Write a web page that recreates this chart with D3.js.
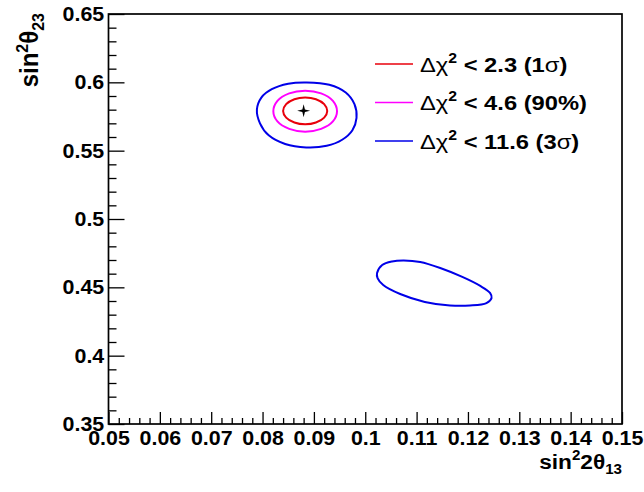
<!DOCTYPE html>
<html><head><meta charset="utf-8">
<script src="https://cdn.jsdelivr.net/npm/d3@7"></script>
<style>
body{margin:0;background:#fff}
text{font-family:"Liberation Sans",Arial,Helvetica,sans-serif;font-weight:bold;fill:#000}
</style>
</head><body><svg id="c" width="644" height="492"></svg>
<script>
// ---- data ----
const xTicks = [0.05,0.06,0.07,0.08,0.09,0.10,0.11,0.12,0.13,0.14,0.15];
const xTickLabels = ["0.05","0.06","0.07","0.08","0.09","0.1","0.11","0.12","0.13","0.14","0.15"];
const yTicks = [0.35,0.40,0.45,0.50,0.55,0.60,0.65];
const yTickLabels = ["0.35","0.4","0.45","0.5","0.55","0.6","0.65"];
const bestFit = [0.0880, 0.5792];
const contour1sigma = [[0.0926,0.5791],[0.0920,0.5840],[0.0904,0.5876],[0.0883,0.5889],[0.0862,0.5876],[0.0846,0.5840],[0.0840,0.5791],[0.0846,0.5742],[0.0862,0.5706],[0.0883,0.5693],[0.0904,0.5706],[0.0920,0.5742]];
const contour90 = [[0.0945,0.5789],[0.0937,0.5864],[0.0914,0.5919],[0.0883,0.5939],[0.0852,0.5919],[0.0829,0.5864],[0.0821,0.5789],[0.0829,0.5714],[0.0852,0.5659],[0.0883,0.5639],[0.0914,0.5659],[0.0937,0.5714]];
const contour3sigmaA = [[0.0886,0.5999],[0.0850,0.5990],[0.0818,0.5950],[0.0798,0.5890],[0.0789,0.5800],[0.0795,0.5700],[0.0812,0.5612],[0.0844,0.5549],[0.0885,0.5524],[0.0925,0.5536],[0.0955,0.5580],[0.0975,0.5650],[0.0983,0.5740],[0.0979,0.5840],[0.0962,0.5925],[0.0930,0.5982]];
const contour3sigmaB = [[0.1023,0.4605],[0.1033,0.4663],[0.1052,0.4689],[0.1075,0.4696],[0.1107,0.4685],[0.1146,0.4641],[0.1189,0.4576],[0.1224,0.4510],[0.1243,0.4459],[0.1246,0.4422],[0.1236,0.4385],[0.1204,0.4367],[0.1165,0.4367],[0.1116,0.4393],[0.1068,0.4451],[0.1035,0.4517],[0.1024,0.4568]];
const legendValues = ["2.3","4.6","11.6"];
const legendCL = ["1σ","90%","3σ"];
const legendColors = ["#e8000b","#ff00ff","#0000e8"];

// ---- layout ----
const svg = d3.select("#c");
const L = 108.5, R = 622, T = 14, B = 424;
const SX = 1.07;
const x = d3.scaleLinear().domain([0.05,0.15]).range([L,R]);
const y = d3.scaleLinear().domain([0.35,0.65]).range([B,T]);

svg.append("rect").attr("width",644).attr("height",492).attr("fill","#fff");
svg.append("clipPath").attr("id","clip").append("rect")
  .attr("x",L).attr("y",T).attr("width",R-L).attr("height",B-T);

// minor ticks
const xMinor = d3.range(0,51).map(i => 0.05 + i*0.002).filter((v,i)=> i%5!==0);
const yMinor = d3.range(0,31).map(i => 0.35 + i*0.01).filter((v,i)=> i%5!==0);

const gx = svg.append("g").attr("transform",`translate(0,${B})`);
gx.call(d3.axisBottom(x).tickValues(xMinor).tickSize(-6).tickFormat(""));
gx.call(g=>g.select(".domain").remove());
const gx2 = svg.append("g").attr("transform",`translate(0,${B})`);
gx2.call(d3.axisBottom(x).tickValues(xTicks).tickSize(-12).tickPadding(6.5)
  .tickFormat((d,i)=>xTickLabels[i]));
gx2.select(".domain").remove();
gx2.selectAll("text").attr("font-size",20).attr("font-family",null)
  .attr("transform",`scale(${SX},1)`);

const gy = svg.append("g").attr("transform",`translate(${L},0)`);
gy.call(d3.axisLeft(y).tickValues(yMinor).tickSize(-8).tickFormat(""));
gy.select(".domain").remove();
const gy2 = svg.append("g").attr("transform",`translate(${L},0)`);
gy2.call(d3.axisLeft(y).tickValues(yTicks).tickSize(-16).tickPadding(4)
  .tickFormat((d,i)=>yTickLabels[i]));
gy2.select(".domain").remove();
gy2.selectAll("text").attr("font-size",20).attr("font-family",null)
  .attr("transform",`scale(${SX},1)`);

svg.selectAll(".tick line").attr("stroke","#000").attr("stroke-width",1.3);

// frame
svg.append("rect").attr("x",L).attr("y",T).attr("width",R-L).attr("height",B-T)
  .attr("fill","none").attr("stroke","#000").attr("stroke-width",1.7);

// contours
const line = d3.line().x(d=>x(d[0])).y(d=>y(d[1])).curve(d3.curveCatmullRomClosed.alpha(0.5));
const plot = svg.append("g").attr("clip-path","url(#clip)");
[[contour3sigmaA,legendColors[2]],[contour3sigmaB,legendColors[2]],[contour90,legendColors[1]],[contour1sigma,legendColors[0]]]
  .forEach(([pts,col])=>{
    plot.append("path").attr("d",line(pts)).attr("fill","none")
      .attr("stroke",col).attr("stroke-width",2);
  });

// best-fit star
const star4 = {draw(ctx,size){const r=Math.sqrt(size);const i=r*0.2;
  ctx.moveTo(0,-r);ctx.lineTo(i,-i);ctx.lineTo(r,0);ctx.lineTo(i,i);
  ctx.lineTo(0,r);ctx.lineTo(-i,i);ctx.lineTo(-r,0);ctx.lineTo(-i,-i);ctx.closePath();}};
plot.append("path").attr("d",d3.symbol(star4,42)())
  .attr("transform",`translate(${x(bestFit[0])},${y(bestFit[1])})`).attr("fill","#000");

// legend
const legY = [64, 102.5, 141];
legendValues.forEach((v,i)=>{
  svg.append("line").attr("x1",375).attr("x2",413).attr("y1",legY[i]).attr("y2",legY[i])
    .attr("stroke",legendColors[i]).attr("stroke-width",1.6);
  const t = svg.append("text").attr("font-size",21)
    .attr("transform",`translate(420,${legY[i]+7.5}) scale(1.13,1)`);
  t.append("tspan").attr("font-weight","normal").text("Δχ");
  t.append("tspan").attr("font-size",14).attr("dy",-9).text("2");
  t.append("tspan").attr("dy",9).text(" < " + v + " (");
  const cl = legendCL[i];
  if (cl.endsWith("σ")) {
    t.append("tspan").text(cl.slice(0,-1));
    t.append("tspan").attr("font-weight","normal").text("σ");
  } else t.append("tspan").text(cl);
  t.append("tspan").text(")");
});

// axis titles
const xt = svg.append("text").attr("font-size",21).attr("text-anchor","end")
  .attr("transform",`translate(${R},469) scale(1.08,1)`);
xt.append("tspan").text("sin");
xt.append("tspan").attr("font-size",14).attr("dy",-9).text("2");
xt.append("tspan").attr("dy",9).text("2θ");
xt.append("tspan").attr("font-size",14).attr("dy",5).text("13");

const yt = svg.append("text").attr("font-size",24).attr("text-anchor","end")
  .attr("transform",`translate(38,${T-1}) rotate(-90) scale(1,1.05)`);
yt.append("tspan").text("sin");
yt.append("tspan").attr("font-size",16).attr("dy",-10).text("2");
yt.append("tspan").attr("dy",10).text("θ");
yt.append("tspan").attr("font-size",16).attr("dy",6).text("23");
</script>
</body></html>
